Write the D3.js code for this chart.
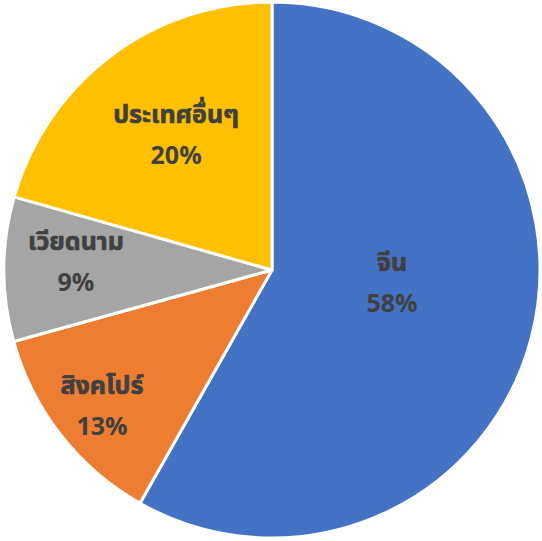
<!DOCTYPE html>
<html><head><meta charset="utf-8">
<script src="https://cdn.jsdelivr.net/npm/d3@7"></script>
<style>html,body{margin:0;padding:0;background:#fff;}</style>
</head><body>
<svg id="c" width="542" height="541"></svg>
<script>
const categories = ["จีน", "สิงคโปร์", "เวียดนาม", "ประเทศอื่นๆ"];
const values = [58.2, 12.5, 8.7, 20.6];
const percentLabels = ["58%", "13%", "9%", "20%"];
const colors = ["#4472C4", "#ED7D31", "#A5A5A5", "#FFC000"];

// label placement (radial fraction, angle shift in degrees) – styling, not data
const labelRadius = [0.451, 0.815, 0.732, 0.615];
const labelShift = [-8.1, -0.9, 1.8, 1.5];

const svg = d3.select("#c");
const cx = 272, cy = 270, r = 268;
const g = svg.append("g").attr("transform", `translate(${cx},${cy})`);
const data = categories.map((c, i) => ({cat: c, value: values[i], pct: percentLabels[i], color: colors[i], i}));
const pie = d3.pie().value(d => d.value).sort(null);
const arc = d3.arc().innerRadius(0).outerRadius(r);
const arcs = pie(data);
g.selectAll("path").data(arcs).join("path")
  .attr("d", arc).attr("fill", d => d.data.color)
  .attr("stroke", "#fff").attr("stroke-width", 3).attr("stroke-linejoin", "round");

const font = "'Noto Sans Thai','Noto Sans Thai Looped','Noto Sans','DejaVu Sans',sans-serif";
arcs.forEach(a => {
  const i = a.data.i;
  const ang = (a.startAngle + a.endAngle) / 2 + labelShift[i] * Math.PI / 180;
  const rr = r * labelRadius[i];
  const x = Math.sin(ang) * rr, y = -Math.cos(ang) * rr;
  const t = g.append("text")
    .attr("text-anchor", "middle").attr("font-family", font)
    .attr("font-weight", "bold").attr("fill", "#404040");
  t.append("tspan").attr("x", x).attr("y", y - 13).attr("font-size", 25)
    .attr("stroke", "#404040").attr("stroke-width", 0.7).text(a.data.cat);
  t.append("tspan").attr("x", x).attr("y", y + 28).attr("font-size", 25).text(a.data.pct);
});
</script>
</body></html>
